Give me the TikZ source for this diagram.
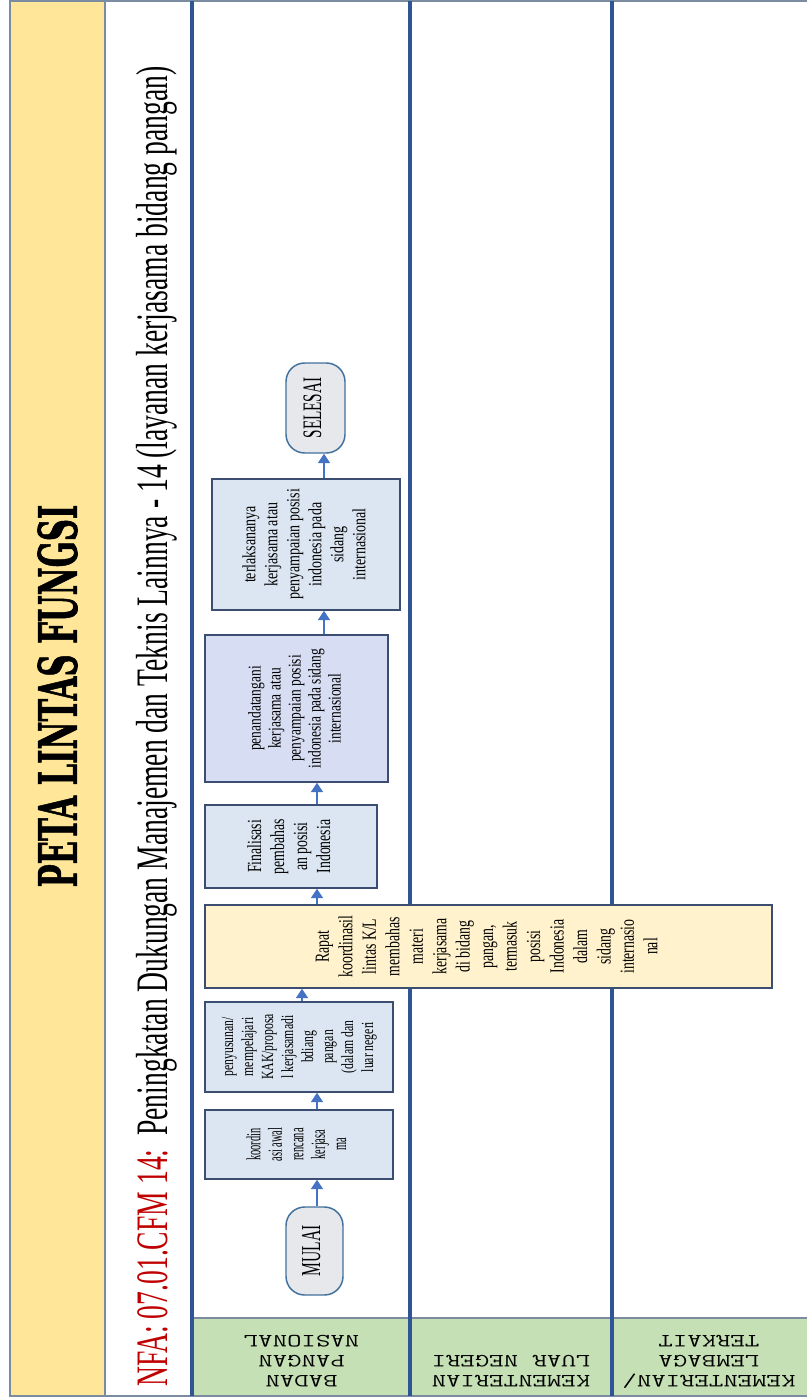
\documentclass[tikz,border=0pt]{standalone}
\usepackage{fontspec}
\usepackage{graphicx}
\usetikzlibrary{arrows.meta}
\setmainfont{Liberation Serif}
% condensed serif cuts for the step texts
\newfontfamily\narA[FakeStretch=0.52]{Liberation Serif}
\newfontfamily\narB[FakeStretch=0.69]{Liberation Serif}
\newfontfamily\narC[FakeStretch=0.75]{Liberation Serif}
\newfontfamily\narT[FakeStretch=0.57]{Liberation Serif}
\newfontfamily\slab[FakeBold=1.5]{DejaVu Serif}

\definecolor{hdrYellow}{HTML}{FFE699}
\definecolor{laneGreen}{HTML}{C5E0B4}
\definecolor{laneLine}{HTML}{2F5597}
\definecolor{frameGray}{HTML}{7C8CA0}
\definecolor{boxBlue}{HTML}{DCE6F2}
\definecolor{boxLav}{HTML}{D7DDF2}
\definecolor{boxYellow}{HTML}{FFF2CC}
\definecolor{boxEdge}{HTML}{3B4E72}
\definecolor{termFill}{HTML}{E6E8EC}
\definecolor{termEdge}{HTML}{41719C}
\definecolor{flowBlue}{HTML}{4472C4}
\definecolor{codeRed}{HTML}{C00000}

% vertical (bottom-to-top) multi-line text
\newcommand\vtext[2]{\rotatebox{90}{#1\begin{tabular}{@{}c@{}}#2\end{tabular}}}
% lane header text, widened monospace
\newcommand\lanetext[1]{\scalebox{1.5}[1]{\ttfamily\fontsize{14pt}{15pt}\selectfont\begin{tabular}{@{}c@{}}#1\end{tabular}}}

\tikzset{
  stepbox/.style={draw=boxEdge, line width=1.1pt, fill=boxBlue, inner sep=0pt},
  termbox/.style={draw=termEdge, line width=1.1pt, fill=termFill, rounded corners=14pt, inner sep=0pt},
  flow/.style={draw=flowBlue, line width=1.1pt, -{Triangle[width=9pt,length=7pt]}},
  laneline/.style={draw=laneLine, line width=3pt},
  lanelbl/.style={inner sep=0pt, rotate=180, anchor=north},
}

\begin{document}
\begin{tikzpicture}[x=0.75pt, y=-0.75pt]
\useasboundingbox (0,0) rectangle (807,1398);

% title column and header strip
\fill[hdrYellow] (10,1) rectangle (105,1396);
\fill[white] (105,1) rectangle (807,1396);
\fill[laneGreen] (192,1318) rectangle (807,1396);
\draw[frameGray, line width=1.2pt] (192,1318) -- (807,1318);
\draw[frameGray, line width=1.2pt] (807,1) -- (10,1) -- (10,1396) -- (807,1396);
\draw[frameGray, line width=1.2pt] (105,1) -- (105,1396);

% swimlane separators
\draw[laneline] (192,1) -- (192,1396);
\draw[laneline] (410,1) -- (410,1396);
\draw[laneline] (612,1) -- (612,1396);

% headings
\node[rotate=90, inner sep=0pt] (judul) at (57.5,696)
  {\resizebox{287pt}{29.5pt}{\slab\bfseries PETA LINTAS FUNGSI}};
\node[rotate=90, anchor=base west, inner sep=0pt] (nfa) at (167,1387)
  {\resizebox{990pt}{23.4pt}{\textcolor{codeRed}{NFA: 07.01.CFM 14:}\ \ Peningkatan Dukungan Manajemen dan Teknis Lainnya - 14 (layanan kerjasama bidang pangan)}};

% lane headers
\node[lanelbl] (lane1) at (301.5,1390) {\lanetext{BADAN\\PANGAN\\NASIONAL}};
\node[lanelbl] (lane2) at (511,1390) {\lanetext{KEMENTERIAN\\LUAR NEGERI}};
\node[lanelbl] (lane3) at (709,1390) {\lanetext{KEMENTERIAN/\\LEMBAGA\\TERKAIT}};

% process steps
\node[termbox, minimum width=42.75pt, minimum height=66pt] (mulai) at (314.5,1251)
  {\vtext{\narT\fontsize{20.5pt}{21pt}\selectfont}{MULAI}};
\node[stepbox, minimum width=141pt, minimum height=51.75pt] (koord) at (299,1144.5)
  {\vtext{\narA\fontsize{15pt}{16.1pt}\selectfont}{koordin\\asi awal\\rencana\\kerjasa\\ma}};
\node[stepbox, minimum width=141pt, minimum height=67.5pt] (susun) at (299,1047)
  {\vtext{\narB\fontsize{12.75pt}{15pt}\selectfont}{penyusunan/\\mempelajari\\KAK/proposa\\l kerjasamadi\\bdiang\\pangan\\(dalam dan\\luar negeri}};
\node[stepbox, fill=boxYellow, minimum width=425.25pt, minimum height=62.25pt] (rapat) at (488.5,946.5)
  {\vtext{\narB\fontsize{15pt}{17.6pt}\selectfont}{Rapat\\koordinasil\\lintas K/L\\membahas\\materi\\kerjasama\\di bidang\\pangan,\\termasuk\\posisi\\Indonesia\\dalam\\sidang\\internasio\\nal}};
\node[stepbox, minimum width=129pt, minimum height=62.25pt] (final) at (291,846.5)
  {\vtext{\narB\fontsize{15pt}{17.3pt}\selectfont}{Finalisasi\\pembahas\\an posisi\\Indonesia}};
\node[stepbox, fill=boxLav, minimum width=137.25pt, minimum height=110.25pt] (tanda) at (296.5,708.5)
  {\vtext{\narC\fontsize{13.5pt}{15pt}\selectfont}{penandatangani\\kerjasama atau\\penyampaian posisi\\indonesia pada sidang\\internasional}};
\node[stepbox, minimum width=141pt, minimum height=98.25pt] (laksana) at (306,544.5)
  {\vtext{\narC\fontsize{14pt}{16.5pt}\selectfont}{terlaksananya\\kerjasama atau\\penyampaian posisi\\indonesia pada\\sidang\\internasional}};
\node[termbox, minimum width=44.25pt, minimum height=67.5pt] (selesai) at (315.5,408)
  {\vtext{\narT\fontsize{20pt}{21pt}\selectfont}{SELESAI}};

% arrow tracks
\coordinate (trackA) at (317,0);
\coordinate (trackB) at (302,0);
\coordinate (trackC) at (324,0);

% flow
\draw[flow] (mulai.north -| trackA) -- (koord.south -| trackA);
\draw[flow] (koord.north -| trackA) -- (susun.south -| trackA);
\draw[flow] (susun.north -| trackB) -- (rapat.south -| trackB);
\draw[flow] (rapat.north -| trackA) -- (final.south -| trackA);
\draw[flow] (final.north -| trackA) -- (tanda.south -| trackA);
\draw[flow] (tanda.north -| trackC) -- (laksana.south -| trackC);
\draw[flow] (laksana.north -| trackC) -- (selesai.south -| trackC);
\end{tikzpicture}
\end{document}
